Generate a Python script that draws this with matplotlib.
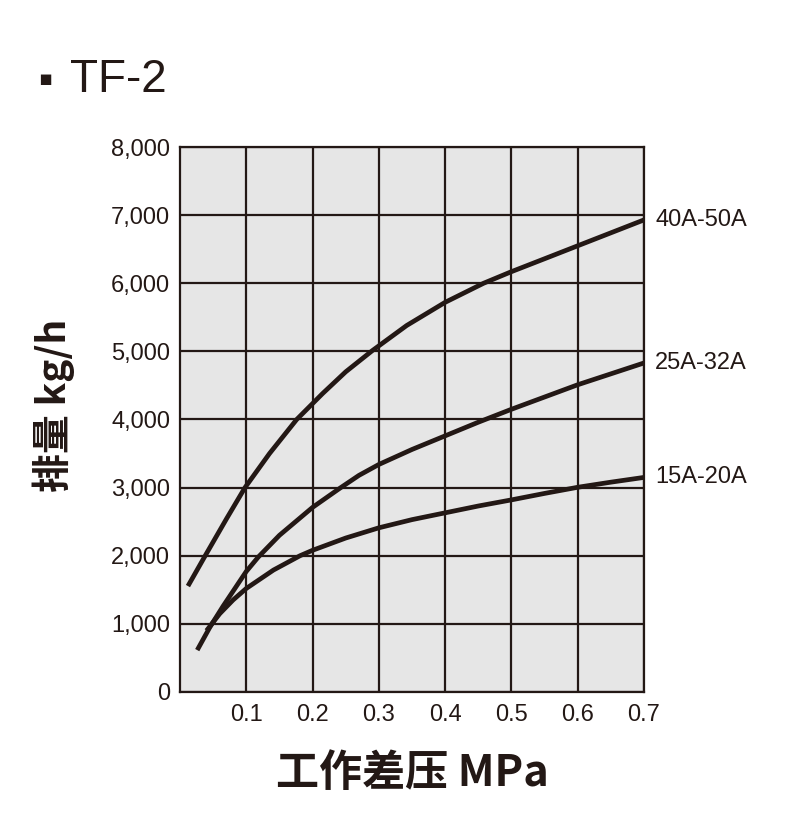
import numpy as np
import matplotlib
matplotlib.use("Agg")
import matplotlib.pyplot as plt

plt.rcParams['font.family'] = ['Liberation Sans', 'Noto Sans CJK SC', 'DejaVu Sans']

# 读图数据 (MPa, kg/h)
x_40 = [0.012, 0.038, 0.07, 0.098, 0.135, 0.176, 0.215, 0.25, 0.29, 0.342, 0.4, 0.458, 0.5, 0.558, 0.6, 0.65, 0.7]
y_40 = [1555, 2000, 2540, 3000, 3500, 4000, 4380, 4700, 5010, 5380, 5720, 6000, 6170, 6390, 6550, 6740, 6930]

x_25 = [0.026, 0.045, 0.065, 0.1, 0.118, 0.15, 0.2, 0.241, 0.27, 0.3, 0.35, 0.4, 0.45, 0.5, 0.55, 0.6, 0.65, 0.7]
y_25 = [615, 950, 1260, 1770, 1980, 2300, 2710, 2990, 3180, 3340, 3560, 3760, 3960, 4150, 4330, 4510, 4670, 4830]

x_15 = [0.04, 0.06, 0.08, 0.1, 0.141, 0.181, 0.2, 0.25, 0.3, 0.35, 0.4, 0.45, 0.5, 0.55, 0.6, 0.65, 0.7]
y_15 = [900, 1150, 1350, 1520, 1790, 2000, 2080, 2260, 2410, 2530, 2630, 2730, 2820, 2915, 3005, 3080, 3150]

labels = ['40A-50A', '25A-32A', '15A-20A']
x_ticks = [0.1, 0.2, 0.3, 0.4, 0.5, 0.6, 0.7]
y_ticks = [0, 1000, 2000, 3000, 4000, 5000, 6000, 7000, 8000]

dark = '#231815'

fig = plt.figure(figsize=(8, 8.24), dpi=100)
ax = fig.add_axes([0.225, 0.1602, 0.58, 0.6614])
ax.set_facecolor('#e6e6e6')

for xs, ys in [(x_40, y_40), (x_25, y_25), (x_15, y_15)]:
    ax.plot(xs, ys, color=dark, lw=3.4, solid_capstyle='butt',
            solid_joinstyle='round', zorder=3)

ax.set_xlim(0, 0.7)
ax.set_ylim(0, 8000)
ax.set_xticks(x_ticks)
ax.set_xticklabels([f'{v:.1f}' for v in x_ticks])
ax.set_yticks(y_ticks)
ax.set_yticklabels([f'{v:,}' for v in y_ticks])
ax.grid(True, color=dark, lw=1.6, zorder=1)
ax.set_axisbelow(True)
ax.tick_params(length=0, labelsize=17, colors=dark)
ax.tick_params(axis='x', pad=9)
ax.tick_params(axis='y', pad=7)
for s in ax.spines.values():
    s.set_color(dark)
    s.set_linewidth(1.6)

# 右侧曲线标注
for ys, lab in zip([y_40, y_25, y_15], labels):
    ax.annotate(lab, xy=(1, ys[-1]), xycoords=('axes fraction', 'data'),
                xytext=(8, 0), textcoords='offset points',
                va='center', ha='left', fontsize=17, color=dark)

fig.text(0.048, 0.904, '▪', fontsize=15, color=dark, va='center', ha='left',
         family=['DejaVu Sans'])
fig.text(0.088, 0.903, 'TF-2', fontsize=33, color=dark, va='center', ha='left')

fig.text(0.0675, 0.508, '排量 kg/h', rotation=90, fontsize=28, fontweight='bold',
         color=dark, va='center', ha='center',
         family=['Noto Sans CJK SC', 'DejaVu Sans'])
fig.text(0.515, 0.062, '工作差压 MPa', fontsize=31, fontweight='bold',
         color=dark, va='center', ha='center',
         family=['Noto Sans CJK SC', 'DejaVu Sans'])

fig.savefig('out.png', dpi=100, facecolor='white')
